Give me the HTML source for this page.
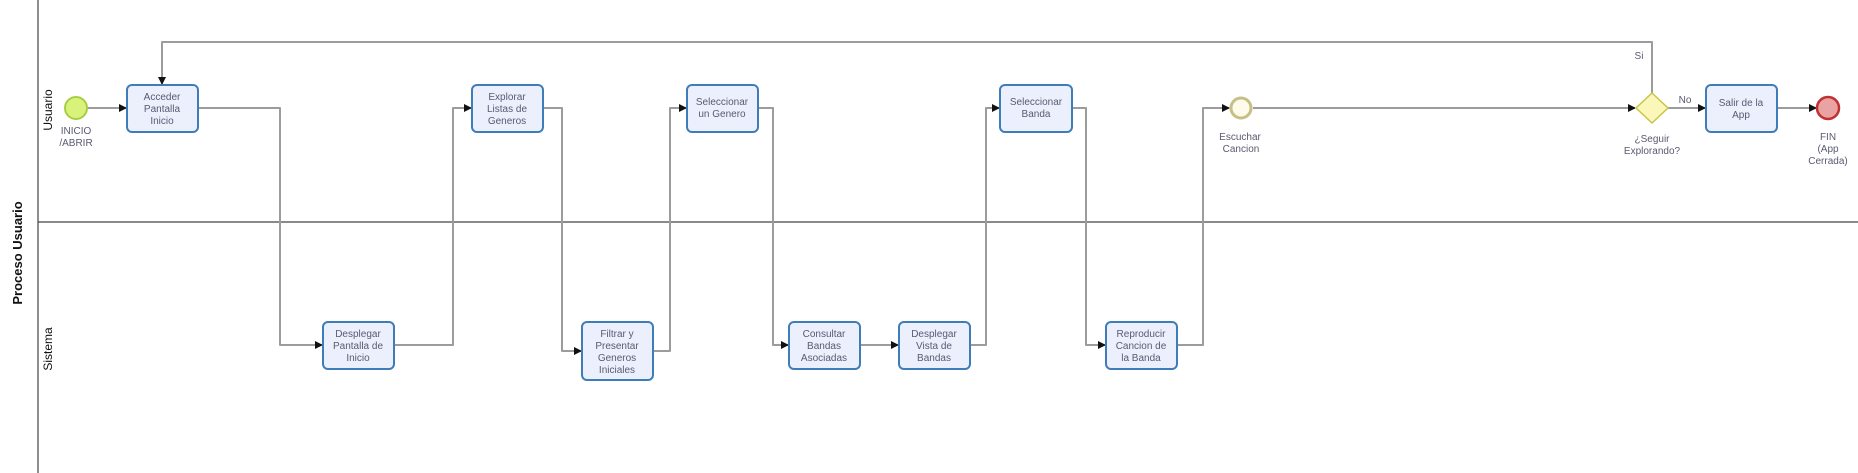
<!DOCTYPE html>
<html><head><meta charset="utf-8"><style>
html,body{margin:0;padding:0;background:#fff;}
svg{display:block;font-family:"Liberation Sans",sans-serif;}
.t{font-size:10px;fill:#5a5a72;text-anchor:middle;}
.box{fill:#ebf0fc;stroke:#3f7db8;stroke-width:2;}
.c{fill:none;stroke:#9c9c9c;stroke-width:2;stroke-linejoin:round;}
</style></head><body>
<svg width="1858" height="473" viewBox="0 0 1858 473">
<defs><marker id="a" markerWidth="8" markerHeight="8" refX="7" refY="4" orient="auto" markerUnits="userSpaceOnUse"><path d="M0,0 L8,4 L0,8 z" fill="#111"/></marker></defs>
<line x1="38" y1="0" x2="38" y2="473" stroke="#444" stroke-width="1.2"/>
<line x1="38" y1="222" x2="1858" y2="222" stroke="#444" stroke-width="1.2"/>
<text transform="translate(22,253) rotate(-90)" style="font-size:13px;font-weight:bold;fill:#111;text-anchor:middle">Proceso Usuario</text>
<text transform="translate(52,110) rotate(-90)" style="font-size:12px;fill:#111;text-anchor:middle">Usuario</text>
<text transform="translate(52,349) rotate(-90)" style="font-size:12px;fill:#111;text-anchor:middle">Sistema</text>

<!-- connectors -->
<path class="c" d="M87,108 H126" marker-end="url(#a)"/>
<path class="c" d="M1652,93 V42 H162 V84" marker-end="url(#a)"/>
<path class="c" d="M198,108 H280 V345 H322" marker-end="url(#a)"/>
<path class="c" d="M394,345 H453 V108 H471" marker-end="url(#a)"/>
<path class="c" d="M543,108 H562 V351 H581" marker-end="url(#a)"/>
<path class="c" d="M653,351 H670 V108 H686" marker-end="url(#a)"/>
<path class="c" d="M758,108 H773 V345 H788" marker-end="url(#a)"/>
<path class="c" d="M860,345 H898" marker-end="url(#a)"/>
<path class="c" d="M970,345 H986 V108 H999" marker-end="url(#a)"/>
<path class="c" d="M1072,108 H1086 V345 H1105" marker-end="url(#a)"/>
<path class="c" d="M1177,345 H1203 V108 H1229" marker-end="url(#a)"/>
<path class="c" d="M1253,108 H1635" marker-end="url(#a)"/>
<path class="c" d="M1668,108 H1705" marker-end="url(#a)"/>
<path class="c" d="M1777,108 H1816" marker-end="url(#a)"/>
<text class="t" x="1639" y="59">Si</text>
<text class="t" x="1685" y="103">No</text>

<!-- events -->
<circle cx="76" cy="108" r="11" fill="#d8f27c" stroke="#a8cf44" stroke-width="2"/>
<text class="t" x="76" y="134">INICIO</text><text class="t" x="76" y="146">/ABRIR</text>
<circle cx="1241" cy="108" r="10" fill="#fffbea" stroke="#c6bf86" stroke-width="3"/>
<text class="t" x="1240" y="140">Escuchar</text><text class="t" x="1241" y="152">Cancion</text>
<polygon points="1652,93 1668,108 1652,123 1636,108" fill="#fbf7b8" stroke="#c9c54a" stroke-width="1.5"/>
<text class="t" x="1652" y="142">¿Seguir</text><text class="t" x="1652" y="154">Explorando?</text>
<circle cx="1828" cy="108" r="11" fill="#eaa3a3" stroke="#c33030" stroke-width="2.5"/>
<text class="t" x="1828" y="140">FIN</text><text class="t" x="1828" y="152">(App</text><text class="t" x="1828" y="164">Cerrada)</text>

<!-- tasks -->
<rect class="box" x="127" y="85" width="71" height="47" rx="5"/>
<text class="t" x="162" y="100">Acceder</text><text class="t" x="162" y="112">Pantalla</text><text class="t" x="162" y="124">Inicio</text>
<rect class="box" x="323" y="322" width="71" height="47" rx="5"/>
<text class="t" x="358" y="337">Desplegar</text><text class="t" x="358" y="349">Pantalla de</text><text class="t" x="358" y="361">Inicio</text>
<rect class="box" x="472" y="85" width="71" height="47" rx="5"/>
<text class="t" x="507" y="100">Explorar</text><text class="t" x="507" y="112">Listas de</text><text class="t" x="507" y="124">Generos</text>
<rect class="box" x="582" y="322" width="71" height="58" rx="5"/>
<text class="t" x="617" y="337">Filtrar y</text><text class="t" x="617" y="349">Presentar</text><text class="t" x="617" y="361">Generos</text><text class="t" x="617" y="373">Iniciales</text>
<rect class="box" x="687" y="85" width="71" height="47" rx="5"/>
<text class="t" x="722" y="105">Seleccionar</text><text class="t" x="722" y="117">un Genero</text>
<rect class="box" x="789" y="322" width="71" height="47" rx="5"/>
<text class="t" x="824" y="337">Consultar</text><text class="t" x="824" y="349">Bandas</text><text class="t" x="824" y="361">Asociadas</text>
<rect class="box" x="899" y="322" width="71" height="47" rx="5"/>
<text class="t" x="934" y="337">Desplegar</text><text class="t" x="934" y="349">Vista de</text><text class="t" x="934" y="361">Bandas</text>
<rect class="box" x="1000" y="85" width="72" height="47" rx="5"/>
<text class="t" x="1036" y="105">Seleccionar</text><text class="t" x="1036" y="117">Banda</text>
<rect class="box" x="1106" y="322" width="71" height="47" rx="5"/>
<text class="t" x="1141" y="337">Reproducir</text><text class="t" x="1141" y="349">Cancion de</text><text class="t" x="1141" y="361">la Banda</text>
<rect class="box" x="1706" y="85" width="71" height="47" rx="5"/>
<text class="t" x="1741" y="106">Salir de la</text><text class="t" x="1741" y="118">App</text>
</svg>
</body></html>
